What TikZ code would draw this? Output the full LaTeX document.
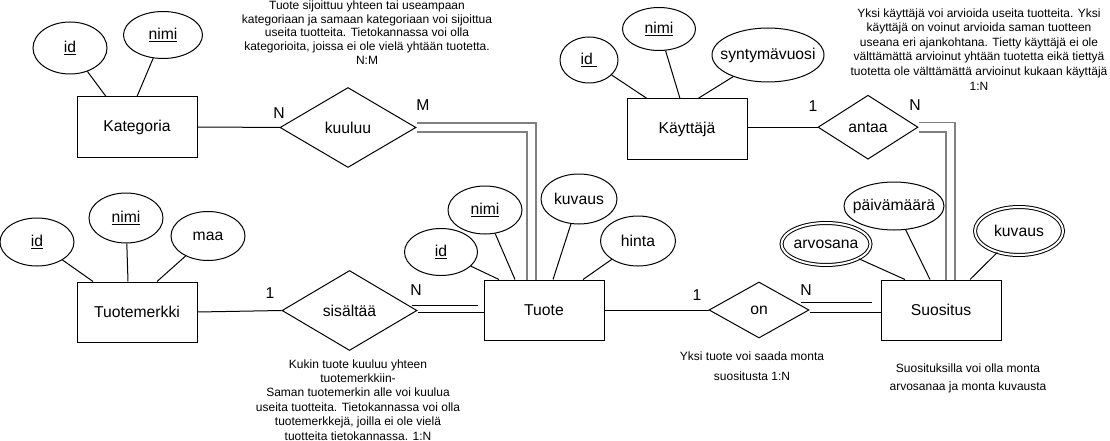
\documentclass[tikz,border=0pt]{standalone}
\usepackage{fontspec}
\setmainfont{Liberation Sans}
\usetikzlibrary{shapes.geometric}

\begin{document}
\begin{tikzpicture}[x=1pt, y=-1pt, line width=1pt,
  entity/.style={draw, rectangle, minimum width=120pt, minimum height=60pt, inner sep=0pt, font=\fontsize{15.7}{18}\selectfont},
  attr/.style={draw, ellipse, inner sep=0pt, font=\fontsize{15.7}{18}\selectfont},
  multi/.style={attr, double, double distance=2pt},
  rel/.style={draw, diamond, inner sep=0pt, font=\fontsize{15.7}{18}\selectfont},
  card/.style={inner sep=0pt, font=\fontsize{15.7}{18}\selectfont},
  note/.style={align=center, inner sep=0pt, anchor=north},
  link/.style={draw=black},
  glink/.style={draw=gray, line width=1.6pt},
]
\useasboundingbox (0,0) rectangle (1110,441);

% Entities
\node[entity] (kat) at (137,127) {Kategoria};
\node[entity] (merkki) at (137,312) {Tuotemerkki};
\node[entity] (tuote) at (544,310) {Tuote};
\node[entity] (kayttaja) at (687,129) {Käyttäjä};
\node[entity] (suositus) at (941,310) {Suositus};

% Relations
\node[rel, minimum width=136pt, minimum height=80pt] (kuuluu) at (348,127.5) {kuuluu};
\node[rel, minimum width=135pt, minimum height=80pt] (sisaltaa) at (349.5,310.5) {sisältää};
\node[rel, minimum width=100pt, minimum height=56pt] (on) at (759,310) {on};
\node[rel, minimum width=100pt, minimum height=64pt] (antaa) at (868,127.2) {antaa};

% Attributes: Kategoria
\node[attr, minimum width=74pt, minimum height=52pt] (katid) at (70,48) {\underline{id}};
\node[attr, minimum width=79pt, minimum height=47pt] (katnimi) at (163,35) {\underline{nimi}};
\draw (katid) -- ([xshift=-31pt]kat.north);
\draw (katnimi) -- (kat.north);

% Attributes: Tuotemerkki
\node[attr, minimum width=74pt, minimum height=48pt] (merkkiid) at (37,242) {\underline{id}};
\node[attr, minimum width=74pt, minimum height=50pt] (merkkinimi) at (126,218) {\underline{nimi}};
\node[attr, minimum width=74pt, minimum height=49pt] (merkkimaa) at (208,236) {maa};
\draw (merkkiid) -- ([xshift=-44pt]merkki.north);
\draw (merkkinimi) -- ([xshift=-9pt]merkki.north);
\draw (merkkimaa) -- ([xshift=20pt]merkki.north);

% Attributes: Tuote
\node[attr, minimum width=73pt, minimum height=47pt] (tuoteid) at (441,252) {\underline{id}};
\node[attr, minimum width=74pt, minimum height=48pt] (tuotenimi) at (485,210) {\underline{nimi}};
\node[attr, minimum width=76pt, minimum height=50pt] (tuotekuvaus) at (579,199) {kuvaus};
\node[attr, minimum width=75pt, minimum height=50pt] (tuotehinta) at (638,241) {hinta};
\draw (tuoteid) -- ([xshift=-45pt]tuote.north);
\draw (tuotenimi) -- ([xshift=-29pt]tuote.north);
\draw (tuotekuvaus) -- ([xshift=9pt]tuote.north);
\draw (tuotehinta) -- ([xshift=39pt]tuote.north);

% Attributes: Käyttäjä
\node[attr, minimum width=58pt, minimum height=46pt] (kayttid) at (589,60) {\underline{id~}};
\node[attr, minimum width=73pt, minimum height=43pt] (kayttnimi) at (659,29) {\underline{nimi}};
\node[attr, minimum width=112pt, minimum height=54pt] (kayttvuosi) at (768,55) {\makebox[0pt]{syntymävuosi}};
\draw (kayttid) -- ([xshift=-40pt]kayttaja.north);
\draw (kayttnimi) -- ([xshift=-7pt]kayttaja.north);
\draw (kayttvuosi) -- ([xshift=11pt]kayttaja.north);

% Attributes: Suositus
\node[multi, minimum width=89pt, minimum height=42pt] (arvosana) at (826,244) {\makebox[0pt]{arvosana}};
\node[attr, minimum width=100pt, minimum height=48pt] (paiva) at (894,206) {\makebox[0pt]{päivämäärä}};
\node[multi, minimum width=88pt, minimum height=48pt] (suoskuvaus) at (1019,231) {kuvaus};
\draw (arvosana) -- ([xshift=-36pt]suositus.north);
\draw (paiva) -- ([xshift=-11pt]suositus.north);
\draw (suoskuvaus) -- ([xshift=29pt]suositus.north);

% Single links
\draw (kat) -- (kuuluu);
\draw (merkki.east) -- (sisaltaa.west);
\draw (tuote.east) -- (on.west);
\draw (kayttaja.east |- antaa.west) -- (antaa.west);

% Double links
\draw[glink] ([yshift=4.5pt]kuuluu.east) -| ([xshift=-8pt]tuote.north);
\draw[glink] ([yshift=-4.5pt]kuuluu.east) -| ([xshift=-17pt]tuote.north);
\draw[glink] ([yshift=4.5pt]antaa.east) -| ([xshift=14pt]suositus.north);
\draw[glink] ([yshift=-4.5pt]antaa.east) -| ([xshift=5pt]suositus.north);
\draw[link] ([xshift=-6pt,yshift=5.5pt]sisaltaa.east) -- ([xshift=-6pt,yshift=5.5pt]sisaltaa.east -| tuote.west);
\draw[link] ([yshift=-1.8pt]sisaltaa.east) -- ([yshift=-1.8pt]sisaltaa.east -| tuote.west);
\draw[link] ([xshift=-9pt,yshift=7.3pt]on.east) -- ([xshift=-9pt,yshift=7.3pt]on.east -| suositus.west);
\draw[link] ([yshift=-2.3pt]on.east) -- ([yshift=-2.3pt]on.east -| suositus.west);

% Cardinalities
\node[card] (c1) at (279,113) {N};
\node[card] (c2) at (423,105) {M};
\node[card] (c3) at (270,293) {1};
\node[card] (c4) at (416,290) {N};
\node[card] (c5) at (697,295) {1};
\node[card] (c6) at (806,290) {N};
\node[card] (c7) at (813,106) {1};
\node[card] (c8) at (915,105) {N};

% Notes
\node[note, font=\fontsize{12}{13.9}\selectfont] (note1) at (367,0) {Tuote sijoittuu yhteen tai useampaan\\kategoriaan ja samaan kategoriaan voi sijoittua\\useita tuotteita. Tietokannassa voi olla\\kategorioita, joissa ei ole vielä yhtään tuotetta.\\N:M};
\node[note, font=\fontsize{12}{14.6}\selectfont] (note2) at (979,8) {Yksi käyttäjä voi arvioida useita tuotteita. Yksi\\käyttäjä on voinut arvioida saman tuotteen\\useana eri ajankohtana. Tietty käyttäjä ei ole\\välttämättä arvioinut yhtään tuotetta eikä tiettyä\\tuotetta ole välttämättä arvioinut kukaan käyttäjä\\1:N};
\node[note, font=\fontsize{12}{14.4}\selectfont] (note3) at (358,359) {Kukin tuote kuuluu yhteen\\tuotemerkkiin-\\Saman tuotemerkin alle voi kuulua\\useita tuotteita. Tietokannassa voi olla\\tuotemerkkejä, joilla ei ole vielä\\tuotteita tietokannassa. 1:N};
\node[note, font=\fontsize{12}{20}\selectfont] (note4) at (752,351) {Yksi tuote voi saada monta\\suositusta 1:N};
\node[note, font=\fontsize{12}{18}\selectfont] (note5) at (968,363) {Suosituksilla voi olla monta\\arvosanaa ja monta kuvausta};
\end{tikzpicture}
\end{document}
